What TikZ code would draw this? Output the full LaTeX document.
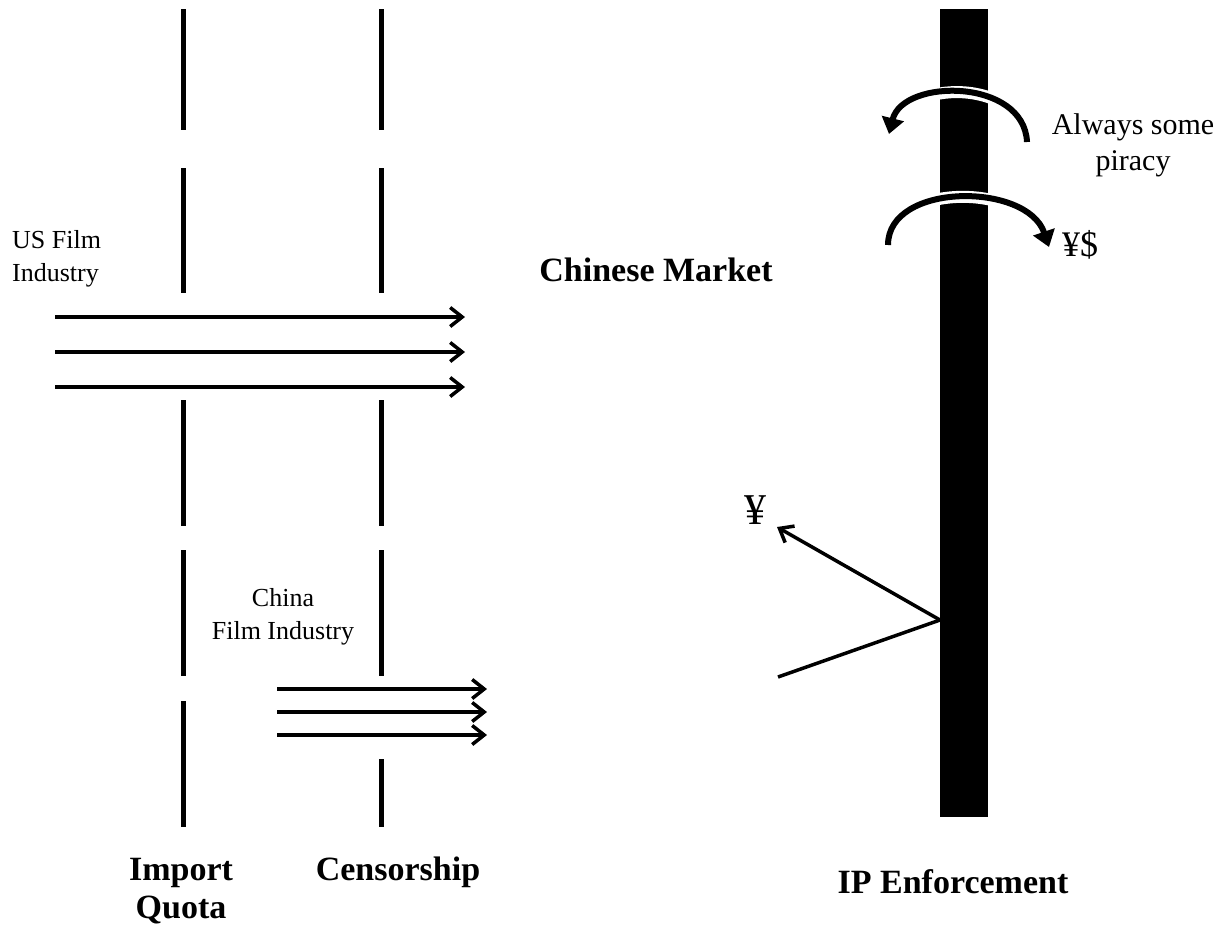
\documentclass[tikz,border=0pt]{standalone}
\usepackage{fontspec}
\setmainfont{Liberation Serif}
\usetikzlibrary{arrows.meta}
\tikzset{
  barrier/.style={line width=5pt},
  flow/.style={line width=3.5pt,-{Straight Barb[length=12pt,width=19pt,line width=3.5pt]}},
  curly/.style={line width=6pt,-{Triangle[length=16pt,width=22pt]}},
  halo/.style={line width=12pt,white},
  lab/.style={inner sep=0pt,font=\fontsize{26}{33}\selectfont,align=center},
  blab/.style={inner sep=0pt,font=\fontsize{34}{38}\selectfont\bfseries,align=center},
}
\begin{document}
\begin{tikzpicture}[x=1pt,y=-1pt]
\useasboundingbox (0,0) rectangle (1228,930);
% Import quota barrier
\foreach \a/\b [count=\i] in {9/130,168/293,400/526,550/676,701/827}{
  \coordinate (iqa\i) at (183,\a); \coordinate (iqb\i) at (183,\b);
  \draw[barrier] (iqa\i) -- (iqb\i);
}
% Censorship barrier
\foreach \a/\b [count=\i] in {9/130,168/293,400/526,550/676,759/827}{
  \coordinate (cea\i) at (381,\a); \coordinate (ceb\i) at (381,\b);
  \draw[barrier] (cea\i) -- (ceb\i);
}
% US arrows
\foreach \y [count=\i] in {317,352,387}{
  \coordinate (usa\i) at (55,\y); \coordinate (usb\i) at (465,\y);
  \draw[flow] (usa\i) -- (usb\i);
}
% China arrows
\foreach \y [count=\i] in {689,712,735}{
  \coordinate (cna\i) at (277,\y); \coordinate (cnb\i) at (487,\y);
  \draw[flow] (cna\i) -- (cnb\i);
}
% IP enforcement bar
\fill (940,9) rectangle (988,817);
\coordinate (hit) at (940,620);
\coordinate (yt) at (777,527);
\coordinate (ys) at (778,677);
\draw[flow] (hit) -- (yt);
\draw[line width=3.5pt] (ys) -- (hit);
% curved arrows
\coordinate (c1s) at (1027,142);
\coordinate (c1e) at (889,134);
\draw[halo] (c1s) .. controls (1024,78) and (903,78) .. (893,128);
\draw[curly] (c1s) .. controls (1024,78) and (903,78) .. (c1e);
\coordinate (c2s) at (888,245);
\coordinate (c2e) at (1049,247);
\draw[halo] (c2s) .. controls (888,182) and (1027,182) .. (1043,238);
\draw[curly] (c2s) .. controls (888,182) and (1027,182) .. (c2e);
% labels
\node[lab,anchor=west,align=left] (us) at (12,259) {US Film\\Industry};
\node[lab] (cn) at (283,617) {China\\Film Industry};
\node[blab] (cm) at (656,270) {Chinese Market};
\node[lab,font=\fontsize{30}{36}\selectfont] (pir) at (1133,145) {Always some\\piracy};
\node[lab,font=\fontsize{36}{36}\selectfont] (ys2) at (1080,245) {¥\$};
\node[lab,font=\fontsize{44}{44}\selectfont] (yen) at (755,510) {¥};
\node[blab] (iq) at (181,891) {Import\\Quota};
\node[blab] (cs) at (398,872) {Censorship};
\node[blab] (ip) at (953,882) {IP Enforcement};
\end{tikzpicture}
\end{document}
